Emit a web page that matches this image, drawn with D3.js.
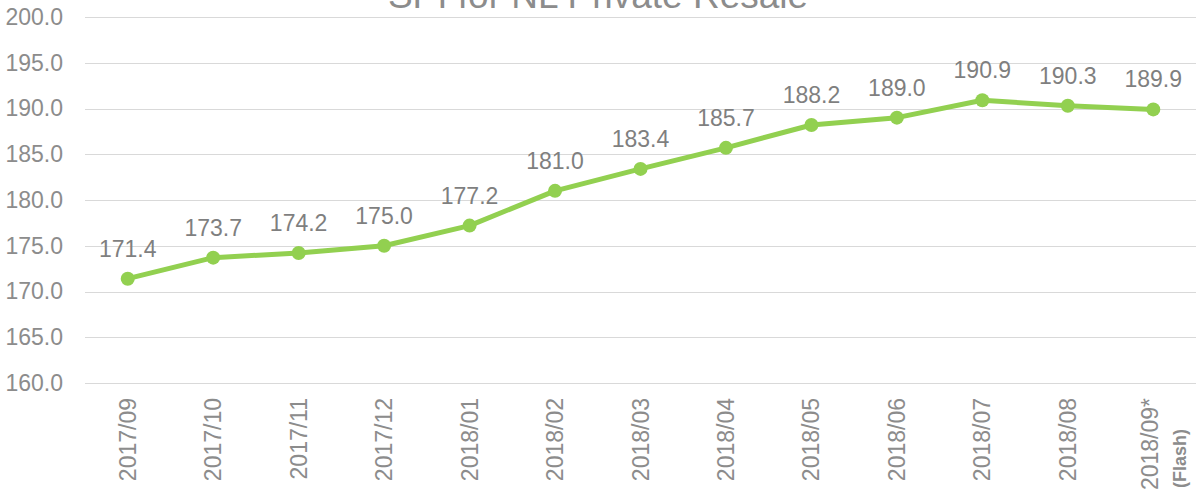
<!DOCTYPE html>
<html>
<head>
<meta charset="utf-8">
<script src="https://cdn.jsdelivr.net/npm/d3@7"></script>
<style>
  body { margin: 0; background: #fff; }
  svg text { font-family: Arial, "Liberation Sans", sans-serif; }
</style>
</head>
<body>
<div id="chart"></div>
<script>
// chart values
const months = ["2017/09", "2017/10", "2017/11", "2017/12", "2018/01", "2018/02", "2018/03",
  "2018/04", "2018/05", "2018/06", "2018/07", "2018/08", "2018/09*"];
const index = [171.4, 173.7, 174.2, 175.0, 177.2, 181.0, 183.4, 185.7, 188.2, 189.0, 190.9, 190.3, 189.9];
const yTicks = [160, 165, 170, 175, 180, 185, 190, 195, 200];
const title = "SPI for NL Private Resale";

const width = 1196, height = 494;
const margin = { top: 17, left: 85, right: 0, bottom: 111 };

const svg = d3.select("#chart").append("svg")
  .attr("width", width)
  .attr("height", height);

const x = d3.scaleBand()
  .domain(months)
  .range([margin.left, width - margin.right]);

const y = d3.scaleLinear()
  .domain([160, 200])
  .range([height - margin.bottom, margin.top]);

// gridlines
svg.append("g")
  .selectAll("line")
  .data(yTicks)
  .enter()
  .append("line")
  .attr("x1", margin.left)
  .attr("x2", width - margin.right)
  .attr("y1", d => Math.round(y(d)) + 0.5)
  .attr("y2", d => Math.round(y(d)) + 0.5)
  .attr("stroke", "#d9d9d9")
  .attr("stroke-width", 1);

// y axis labels
const yAxis = d3.axisLeft(y)
  .tickValues(yTicks)
  .tickFormat(d3.format(".1f"))
  .tickSize(0)
  .tickPadding(22);

svg.append("g")
  .attr("transform", `translate(${margin.left},0)`)
  .call(yAxis)
  .call(g => g.select(".domain").remove())
  .selectAll("text")
  .attr("font-size", 23)
  .attr("fill", "#8c8c8c")
  .attr("font-family", "Arial, 'Liberation Sans', sans-serif");

// x axis labels (rotated)
const xAxis = d3.axisBottom(x).tickSize(0).tickPadding(0);
const xg = svg.append("g")
  .attr("transform", `translate(0,${height - margin.bottom})`)
  .call(xAxis)
  .call(g => g.select(".domain").remove());

xg.selectAll(".tick text")
  .attr("font-size", 23)
  .attr("fill", "#8c8c8c")
  .attr("font-family", "Arial, 'Liberation Sans', sans-serif")
  .attr("text-anchor", "end")
  .attr("dy", null)
  .attr("y", 0)
  .attr("transform", d => d === "2018/09*" ? "translate(-3,15) rotate(-90)" : "translate(0,15) rotate(-90)")
  .attr("x", 0)
  .attr("dy", "0.35em");

// the extra "(Flash)" line under the last month
const last = months[months.length - 1];
svg.append("text")
  .attr("transform", `translate(${x(last) + x.bandwidth() / 2 + 26},${height - 6}) rotate(-90)`)
  .attr("text-anchor", "start")
  .attr("dy", "0.35em")
  .attr("font-size", 18)
  .attr("font-weight", "bold")
  .attr("fill", "#8c8c8c")
  .text("(Flash)");

// line
const line = d3.line()
  .x((d, i) => x(months[i]) + x.bandwidth() / 2)
  .y(d => y(d));

svg.append("path")
  .datum(index)
  .attr("fill", "none")
  .attr("stroke", "#92d050")
  .attr("stroke-width", 5)
  .attr("stroke-linejoin", "round")
  .attr("d", line);

svg.append("g")
  .selectAll("circle")
  .data(index)
  .enter()
  .append("circle")
  .attr("cx", (d, i) => x(months[i]) + x.bandwidth() / 2)
  .attr("cy", d => y(d))
  .attr("r", 7)
  .attr("fill", "#92d050");

// data labels
svg.append("g")
  .selectAll("text")
  .data(index)
  .enter()
  .append("text")
  .attr("x", (d, i) => x(months[i]) + x.bandwidth() / 2)
  .attr("y", d => y(d) - 22)
  .attr("text-anchor", "middle")
  .attr("font-size", 23)
  .attr("fill", "#7f7f7f")
  .text(d => d.toFixed(1));

// title (mostly cut off at top)
svg.append("text")
  .attr("x", width / 2)
  .attr("y", 8)
  .attr("text-anchor", "middle")
  .attr("font-size", 37)
  .attr("fill", "#8c8c8c")
  .text(title);
</script>
</body>
</html>
